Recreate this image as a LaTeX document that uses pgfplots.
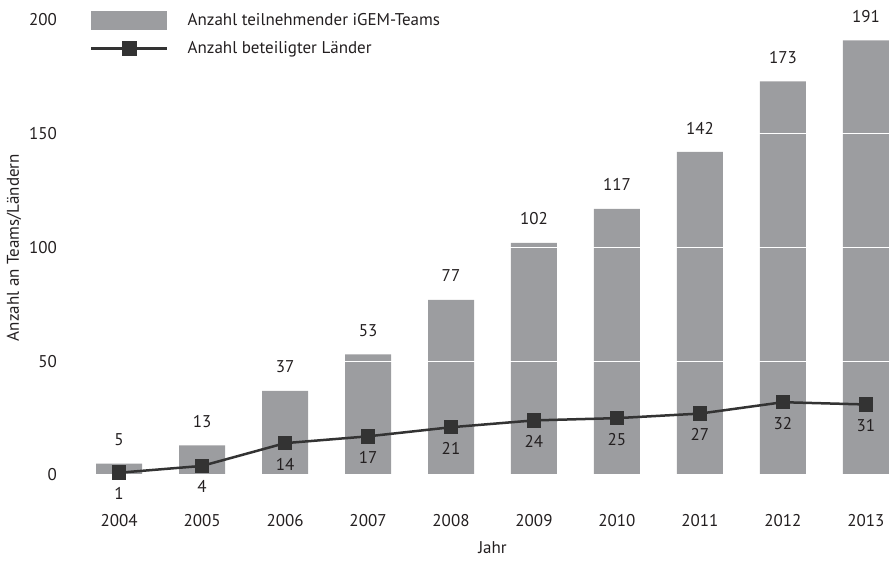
\documentclass[border=0pt]{standalone}
\usepackage{fontspec}
\setmainfont{PT Sans}
\usepackage{pgfplots}
\pgfplotsset{compat=1.18}
\definecolor{barc}{HTML}{9C9DA0}
\definecolor{linec}{HTML}{333333}
\definecolor{txt}{HTML}{231F20}
\newcommand{\fs}{\fontsize{17}{20}\selectfont}
\pgfplotsset{
  mylinelegend/.style={legend image code/.code={\draw[mark repeat=2,mark phase=2,##1] plot coordinates {(0pt,0pt) (38pt,0pt) (76pt,0pt)};}},
  mybarlegend/.style={legend image code/.code={\fill[barc] (0pt,-9.5pt) rectangle (76pt,9.5pt);}},
}
\begin{document}
\fs
\begin{tikzpicture}
\begin{axis}[
  at={(0,0)}, anchor=south west,
  scale only axis, width=795pt, height=455pt,
  xmin=-0.29, xmax=9.29, ymin=0, ymax=200,
  clip=false,
  axis line style={draw=none},
  major tick length=0pt,
  ytick={0,50,100,150,200},
  xtick={0,...,9},
  xticklabels={2004,2005,2006,2007,2008,2009,2010,2011,2012,2013},
  ymajorgrids, grid style={white, line width=1.3pt},
  axis on top,
  /pgf/number format/assume math mode=true,
  tick label style={font=\fs, text=txt},
  xticklabel style={anchor=center, yshift=-46pt},
  yticklabel style={anchor=east, inner sep=0pt, xshift=-38pt},
  xlabel={Jahr},
  xlabel style={at={(axis description cs:0.5,0)}, anchor=center, yshift=-73pt, font=\fs, text=txt},
  ylabel={Anzahl an Teams/Ländern},
  ylabel style={at={(axis description cs:-0.1019,0.5)}, anchor=center, font=\fs, text=txt},
  legend style={at={(axis description cs:-0.0063,1.0198)}, anchor=north west, draw=none, fill=none, inner sep=0pt,
    font=\fs, text=txt, row sep=11pt,
    nodes={inner sep=0pt, text height=12pt, text depth=3pt},
    /tikz/every odd column/.append style={column sep=19pt}},
  legend cell align=left,
]
\addplot[ybar, bar width=46pt, fill=barc, draw=none,
  nodes near coords, nodes near coords style={anchor=center, yshift=24pt, text=txt, font=\fs},
  mybarlegend]
  coordinates {(0,5) (1,13) (2,37) (3,53) (4,77) (5,102) (6,117) (7,142) (8,173) (9,191)};
\addlegendentry{Anzahl teilnehmender iGEM-Teams}
\addplot[linec, line width=2.5pt, mark=square*, mark size=6pt, mark options={solid},
  nodes near coords, nodes near coords style={anchor=center, yshift=-21pt, text=txt, font=\fs},
  mylinelegend]
  coordinates {(0,1) (1,4) (2,14) (3,17) (4,21) (5,24) (6,25) (7,27) (8,32) (9,31)};
\addlegendentry{Anzahl beteiligter Länder}
\coordinate (O) at (rel axis cs:0,0);
\end{axis}
\pgfresetboundingbox
\path (O) ++(-95pt,-85pt) rectangle ++(890pt,560pt);
\end{tikzpicture}
\end{document}
